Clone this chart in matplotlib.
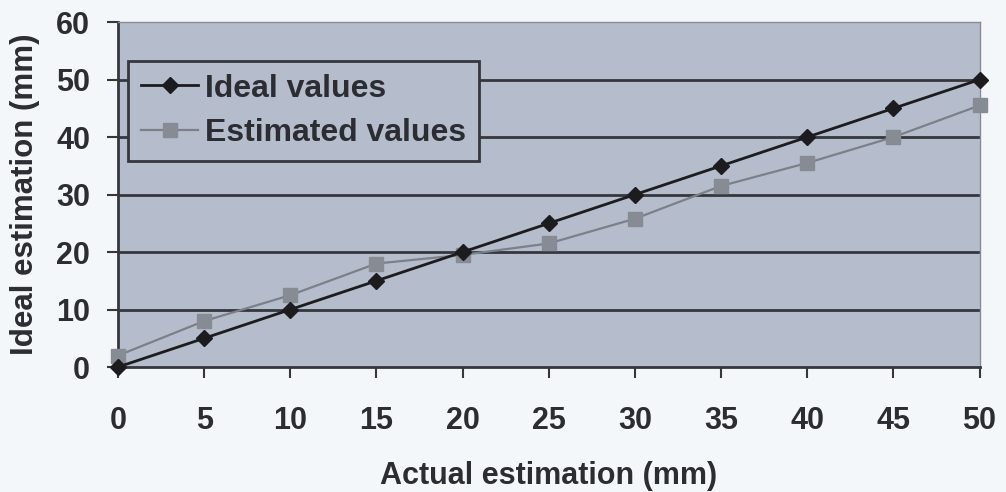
import numpy as np
import matplotlib
matplotlib.use('Agg')
import matplotlib.pyplot as plt

plt.rcParams['font.family'] = ['Liberation Sans', 'DejaVu Sans']
plt.rcParams['font.weight'] = 'bold'

actual = [0, 5, 10, 15, 20, 25, 30, 35, 40, 45, 50]
ideal = [0, 5, 10, 15, 20, 25, 30, 35, 40, 45, 50]
estimated = [2, 8, 12.5, 18, 19.5, 21.5, 25.8, 31.5, 35.5, 40, 45.5]

txt = '#2b2d33'
bg = '#b5bccb'

fig = plt.figure(figsize=(10.06, 4.92), dpi=100)
fig.patch.set_facecolor('#f3f7f9')
ax = fig.add_axes([0.1173, 0.254, 0.8564, 0.701])
ax.set_facecolor(bg)

# dark horizontal grid
for yv in [10, 20, 30, 40, 50]:
    ax.axhline(yv, color='#35373c', lw=2.0, zorder=1)

ax.plot(actual, ideal, color='#1c1c1e', lw=2.0, marker='D', ms=8.5,
        mfc='#1c1c1e', mec='#1c1c1e', label='Ideal values', zorder=4, clip_on=False)
ax.plot(actual, estimated, color='#7b8089', lw=1.6, marker='s', ms=10,
        mfc='#878b93', mec='#878b93', label='Estimated values', zorder=3, clip_on=False)

ax.set_xlim(0, 50)
ax.set_ylim(0, 60)
ax.set_xticks(actual)
ax.set_yticks([0, 10, 20, 30, 40, 50, 60])

for s in ['left', 'bottom']:
    ax.spines[s].set_color('#35373c')
    ax.spines[s].set_linewidth(2.0)
for s in ['top', 'right']:
    ax.spines[s].set_color('#8a8d94')
    ax.spines[s].set_linewidth(1.0)

ax.tick_params(axis='y', length=8, width=1.5, color='#35373c', pad=12,
               labelsize=22, labelcolor=txt)
ax.tick_params(axis='x', length=8, width=1.5, color='#35373c', pad=20,
               labelsize=22, labelcolor=txt)

ax.set_xlabel('Actual estimation (mm)', fontsize=22, fontweight='bold',
              color=txt, labelpad=18)
ax.set_ylabel('Ideal estimation (mm)', fontsize=22.5, fontweight='bold',
              color=txt, labelpad=12)

leg = ax.legend(loc='upper left', bbox_to_anchor=(0.0116, 0.888), fontsize=23,
                frameon=True, fancybox=False, handlelength=1.8, handletextpad=0.2,
                borderpad=0.4, labelspacing=0.45, borderaxespad=0)
leg.get_frame().set_facecolor(bg)
leg.get_frame().set_edgecolor('#35373c')
leg.get_frame().set_linewidth(2.0)
leg.get_frame().set_alpha(1)
for t in leg.get_texts():
    t.set_color(txt)

fig.savefig('out.png', dpi=100, facecolor=fig.get_facecolor())
